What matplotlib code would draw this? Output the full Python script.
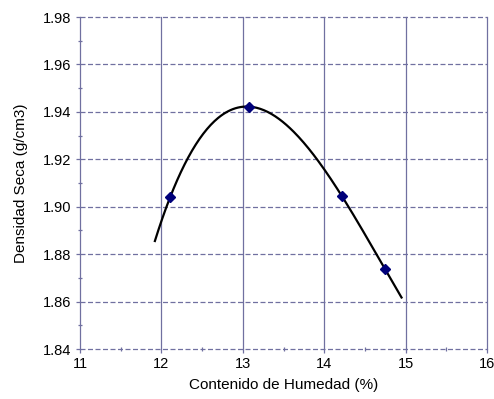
import numpy as np
import matplotlib
matplotlib.use("Agg")
import matplotlib.pyplot as plt
from matplotlib.ticker import MultipleLocator, FormatStrFormatter

plt.rcParams['font.family'] = ['Liberation Sans', 'DejaVu Sans']

humedad = [12.106, 13.08, 14.215, 14.747]
densidad = [1.9039, 1.9422, 1.9046, 1.8737]
curve_range = [11.92, 14.95]

fig = plt.figure(figsize=(4.94, 3.99), dpi=100)
ax = fig.add_axes([80/494, 1-349/399, 407/494, 332/399])

gc = '#7070a0'
coef = np.polyfit(humedad, densidad, 3)
xs = np.linspace(curve_range[0], curve_range[1], 200)
ax.plot(xs, np.polyval(coef, xs), color='black', lw=1.6, zorder=3)
ax.plot(humedad, densidad, linestyle='none', marker='D', ms=5.5, color='#00007a', zorder=4)

ax.set_xlim(11, 16)
ax.set_ylim(1.84, 1.98)
ax.xaxis.set_major_locator(MultipleLocator(1))
ax.xaxis.set_minor_locator(MultipleLocator(0.5))
ax.yaxis.set_major_locator(MultipleLocator(0.02))
ax.yaxis.set_minor_locator(MultipleLocator(0.01))
ax.yaxis.set_major_formatter(FormatStrFormatter('%.2f'))

for x in range(12, 17):
    ax.axvline(x, color=gc, lw=0.9, zorder=1, clip_on=False)
for y in np.arange(1.84, 1.981, 0.02):
    ax.axhline(y, color=gc, lw=0.9, ls=(0, (4, 2)), zorder=1, clip_on=False)

for s in ['top', 'right', 'bottom']:
    ax.spines[s].set_visible(False)
ax.spines['left'].set_color(gc)
ax.spines['left'].set_linewidth(0.9)

ax.tick_params(which='major', direction='out', length=3, color=gc, width=0.9,
               labelsize=10.5, labelcolor='black', pad=3)
ax.tick_params(which='minor', direction='inout', length=3.5, color=gc, width=0.9)

ax.set_xlabel('Contenido de Humedad (%)', fontsize=11, labelpad=5)
ax.set_ylabel('Densidad Seca (g/cm3)', fontsize=11, labelpad=11)

fig.savefig('out.png', dpi=100)
